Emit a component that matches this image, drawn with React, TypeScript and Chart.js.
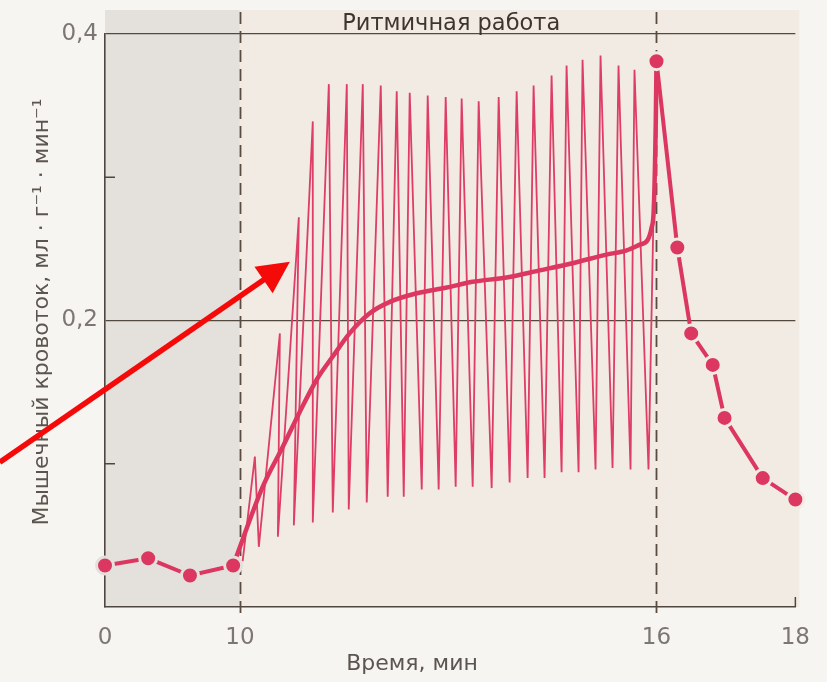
import React, { useEffect, useRef } from "react";
import { Chart, registerables } from "chart.js";
Chart.register(...registerables);

// ---- data (time in minutes, blood flow in ml·g⁻¹·min⁻¹) ----
const xTickMinutes = [0, 10, 16, 18];
const yTickLabels: Record<string, string> = { "0.2": "0,2", "0.4": "0,4" };
const workStart = 10;
const workEnd = 16;

const preTimes = [0, 3.2, 6.3, 9.5];
const preValues = [0.029, 0.034, 0.022, 0.029];

const postTimes = [16, 16.3, 16.5, 16.81, 16.98, 17.53, 18];
const postValues = [0.381, 0.251, 0.191, 0.169, 0.132, 0.09, 0.075];

const meanTimes = [9.5, 10.33, 10.62, 10.86, 11.11, 11.34, 11.58, 11.87, 12.16, 12.55, 12.98, 13.35, 13.84, 14.32, 14.79, 15.28, 15.57, 15.76, 15.87, 15.93, 15.96, 15.99, 16];
const meanValues = [0.029, 0.084, 0.112, 0.136, 0.159, 0.175, 0.191, 0.205, 0.213, 0.219, 0.223, 0.227, 0.23, 0.235, 0.24, 0.246, 0.249, 0.253, 0.256, 0.265, 0.277, 0.34, 0.381];

const peakTimes = [10.216, 10.576, 10.849, 11.05, 11.281, 11.54, 11.77, 12.029, 12.259, 12.446, 12.705, 12.964, 13.194, 13.439, 13.727, 13.986, 14.23, 14.489, 14.705, 14.935, 15.194, 15.453, 15.683];
const peakValues = [0.105, 0.191, 0.272, 0.339, 0.365, 0.365, 0.365, 0.364, 0.36, 0.359, 0.357, 0.356, 0.355, 0.353, 0.356, 0.36, 0.364, 0.371, 0.378, 0.382, 0.385, 0.378, 0.375];
const troughTimes = [10.04, 10.273, 10.547, 10.777, 11.05, 11.338, 11.568, 11.827, 12.129, 12.36, 12.619, 12.863, 13.108, 13.353, 13.626, 13.885, 14.144, 14.388, 14.633, 14.878, 15.122, 15.367, 15.626, 15.885];
const troughValues = [0.032, 0.042, 0.049, 0.057, 0.059, 0.066, 0.068, 0.073, 0.077, 0.077, 0.082, 0.082, 0.084, 0.084, 0.083, 0.087, 0.09, 0.09, 0.094, 0.094, 0.096, 0.097, 0.096, 0.096];

const arrowFrom = [-7.8, 0.101];
const arrowTo = [10.72, 0.241];

const titleText = "Ритмичная работа";
const xTitle = "Время, мин";
const yTitle = "Мышечный кровоток, мл · г⁻¹ · мин⁻¹";

// ---- axis transform: first 10 minutes are compressed ----
const K = 135 / 69.5 / 10;
const toU = (m: number) => (m <= 10 ? m * K : 10 * K + (m - 10));

const RED = "#dc3760";
const AXIS = "#4f463f";
const LABEL = "#7c7772";
const FONT = "'DejaVu Sans', 'Liberation Sans', sans-serif";

const pts = (t: number[], v: number[]) => t.map((m, i) => ({ x: toU(m), y: v[i] }));

function zigzag() {
  const out: { x: number; y: number }[] = [];
  out.push({ x: toU(troughTimes[0]), y: troughValues[0] });
  for (let i = 0; i < peakTimes.length; i++) {
    out.push({ x: toU(peakTimes[i]), y: peakValues[i] });
    out.push({ x: toU(troughTimes[i + 1]), y: troughValues[i + 1] });
  }
  out.push({ x: toU(postTimes[0]), y: postValues[0] });
  return out;
}

const decorPlugin = {
  id: "decor",
  beforeDraw(chart: any) {
    const { ctx, chartArea: a, scales } = chart;
    const x = scales.x;
    ctx.save();
    ctx.fillStyle = "#f7f5f1";
    ctx.fillRect(0, 0, chart.width, chart.height);
    const top = a.top - 24;
    const x10 = x.getPixelForValue(toU(workStart));
    ctx.fillStyle = "#e4e1dc";
    ctx.fillRect(a.left, top, x10 - a.left, a.bottom - top);
    ctx.fillStyle = "#f1ebe4";
    ctx.fillRect(x10, top, a.right + 4 - x10, a.bottom - top);
    ctx.restore();
  },
  beforeDatasetsDraw(chart: any) {
    const { ctx, chartArea: a, scales } = chart;
    const { x, y } = scales;
    ctx.save();
    ctx.strokeStyle = "#5a4c41";
    ctx.lineWidth = 1.8;
    ctx.setLineDash([12, 7]);
    for (const m of [workStart, workEnd]) {
      const px = Math.round(x.getPixelForValue(toU(m))) + 0.5;
      ctx.beginPath();
      ctx.moveTo(px, a.top - 22);
      ctx.lineTo(px, a.bottom + 6);
      ctx.stroke();
    }
    ctx.setLineDash([]);
    ctx.strokeStyle = AXIS;
    ctx.lineWidth = 1.5;
    for (const v of [0.1, 0.3]) {
      const py = y.getPixelForValue(v);
      ctx.beginPath();
      ctx.moveTo(a.left, py);
      ctx.lineTo(a.left + 10, py);
      ctx.stroke();
    }
    const r = x.getPixelForValue(toU(18));
    ctx.beginPath();
    ctx.moveTo(r, a.bottom);
    ctx.lineTo(r, a.bottom - 10);
    ctx.stroke();
    ctx.restore();
  },
  afterDraw(chart: any) {
    const { ctx, chartArea: a, scales } = chart;
    const { x, y } = scales;
    ctx.save();
    // title of work period
    const cx = (x.getPixelForValue(toU(workStart)) + x.getPixelForValue(toU(workEnd))) / 2 + 3;
    ctx.fillStyle = "#3e352e";
    ctx.font = `22.5px ${FONT}`;
    ctx.textAlign = "center";
    ctx.textBaseline = "alphabetic";
    ctx.fillText(titleText, cx, a.top - 4);
    // x title
    ctx.fillStyle = "#5c554f";
    ctx.font = `22px ${FONT}`;
    ctx.textBaseline = "middle";
    ctx.fillText(xTitle, 412, a.bottom + 57);
    // y title
    ctx.translate(42, 312);
    ctx.rotate(-Math.PI / 2);
    ctx.fillText(yTitle, 0, 0);
    ctx.restore();

    // arrow
    ctx.save();
    const x0 = x.getPixelForValue(toU(arrowFrom[0]));
    const y0 = y.getPixelForValue(arrowFrom[1]);
    const x1 = x.getPixelForValue(toU(arrowTo[0]));
    const y1 = y.getPixelForValue(arrowTo[1]);
    const ang = Math.atan2(y1 - y0, x1 - x0);
    const head = 32;
    const half = 16;
    const dx = Math.cos(ang), dy = Math.sin(ang);
    ctx.strokeStyle = "#f50a0a";
    ctx.fillStyle = "#f50a0a";
    ctx.lineWidth = 5.5;
    ctx.beginPath();
    ctx.moveTo(x0, y0);
    ctx.lineTo(x1 - dx * head * 0.8, y1 - dy * head * 0.8);
    ctx.stroke();
    const bx = x1 - dx * head, by = y1 - dy * head;
    ctx.beginPath();
    ctx.moveTo(x1, y1);
    ctx.lineTo(bx - dy * half, by + dx * half);
    ctx.lineTo(bx + dy * half, by - dx * half);
    ctx.closePath();
    ctx.fill();
    ctx.restore();
  },
};

export default function App() {
  const ref = useRef<HTMLCanvasElement>(null);
  useEffect(() => {
    if (!ref.current) return;
    const chart = new Chart(ref.current, {
      type: "line",
      data: {
        datasets: [
          {
            data: pts(preTimes, preValues),
            borderColor: RED,
            borderWidth: 4,
            pointRadius: 8.5,
            pointBackgroundColor: RED,
            pointBorderColor: "#e4e1dc",
            pointBorderWidth: 3,
            tension: 0,
            clip: false,
            order: 1,
          } as any,
          {
            data: pts(postTimes, postValues),
            borderColor: RED,
            borderWidth: 4,
            pointRadius: 8.5,
            pointBackgroundColor: RED,
            pointBorderColor: "#f1ebe4",
            pointBorderWidth: 3,
            tension: 0,
            clip: false,
            order: 1,
          },
          {
            data: pts(meanTimes, meanValues),
            borderColor: RED,
            borderWidth: 4.5,
            pointRadius: 0,
            cubicInterpolationMode: "monotone",
            clip: false,
            order: 2,
          },
          {
            data: zigzag(),
            borderColor: "#de3d66",
            borderWidth: 1.8,
            pointRadius: 0,
            tension: 0,
            clip: false,
            order: 3,
          },
        ],
      },
      options: {
        animation: false,
        responsive: false,
        devicePixelRatio: 1,
        parsing: false as any,
        layout: { padding: { left: 0, right: 30, top: 34, bottom: 0 } },
        plugins: { legend: { display: false }, tooltip: { enabled: false } },
        scales: {
          x: {
            type: "linear",
            min: 0,
            max: toU(18),
            afterBuildTicks: (s: any) => {
              s.ticks = xTickMinutes.map((m) => ({ value: toU(m) }));
            },
            afterFit: (s: any) => {
              s.height = 75;
            },
            grid: { display: false, drawTicks: false },
            border: { display: true, color: AXIS, width: 1.6 },
            ticks: {
              autoSkip: false,
              maxRotation: 0,
              padding: 17,
              color: LABEL,
              font: { family: FONT, size: 23 },
              callback: (_v: any, i: number) => String(xTickMinutes[i]),
            },
          },
          y: {
            type: "linear",
            min: 0,
            max: 0.4,
            afterFit: (s: any) => {
              s.width = 105;
            },
            grid: {
              drawTicks: false,
              lineWidth: 1.3,
              color: (c: any) => {
                const v = c.tick ? +c.tick.value.toFixed(2) : 0;
                return v === 0.2 || v === 0.4 ? "#54493f" : "rgba(0,0,0,0)";
              },
            },
            border: { display: true, color: AXIS, width: 1.6 },
            ticks: {
              stepSize: 0.1,
              padding: 7,
              color: LABEL,
              font: { family: FONT, size: 23 },
              callback: (v: any) => yTickLabels[String(+(+v).toFixed(2))] || "",
            },
          },
        },
      },
      plugins: [decorPlugin],
    });
    return () => chart.destroy();
  }, []);
  return (
    <div style={{ position: "fixed", left: 0, top: 0, width: 827, height: 682, background: "#f7f5f1" }}>
      <canvas ref={ref} width={827} height={682} style={{ display: "block" }} />
    </div>
  );
}
